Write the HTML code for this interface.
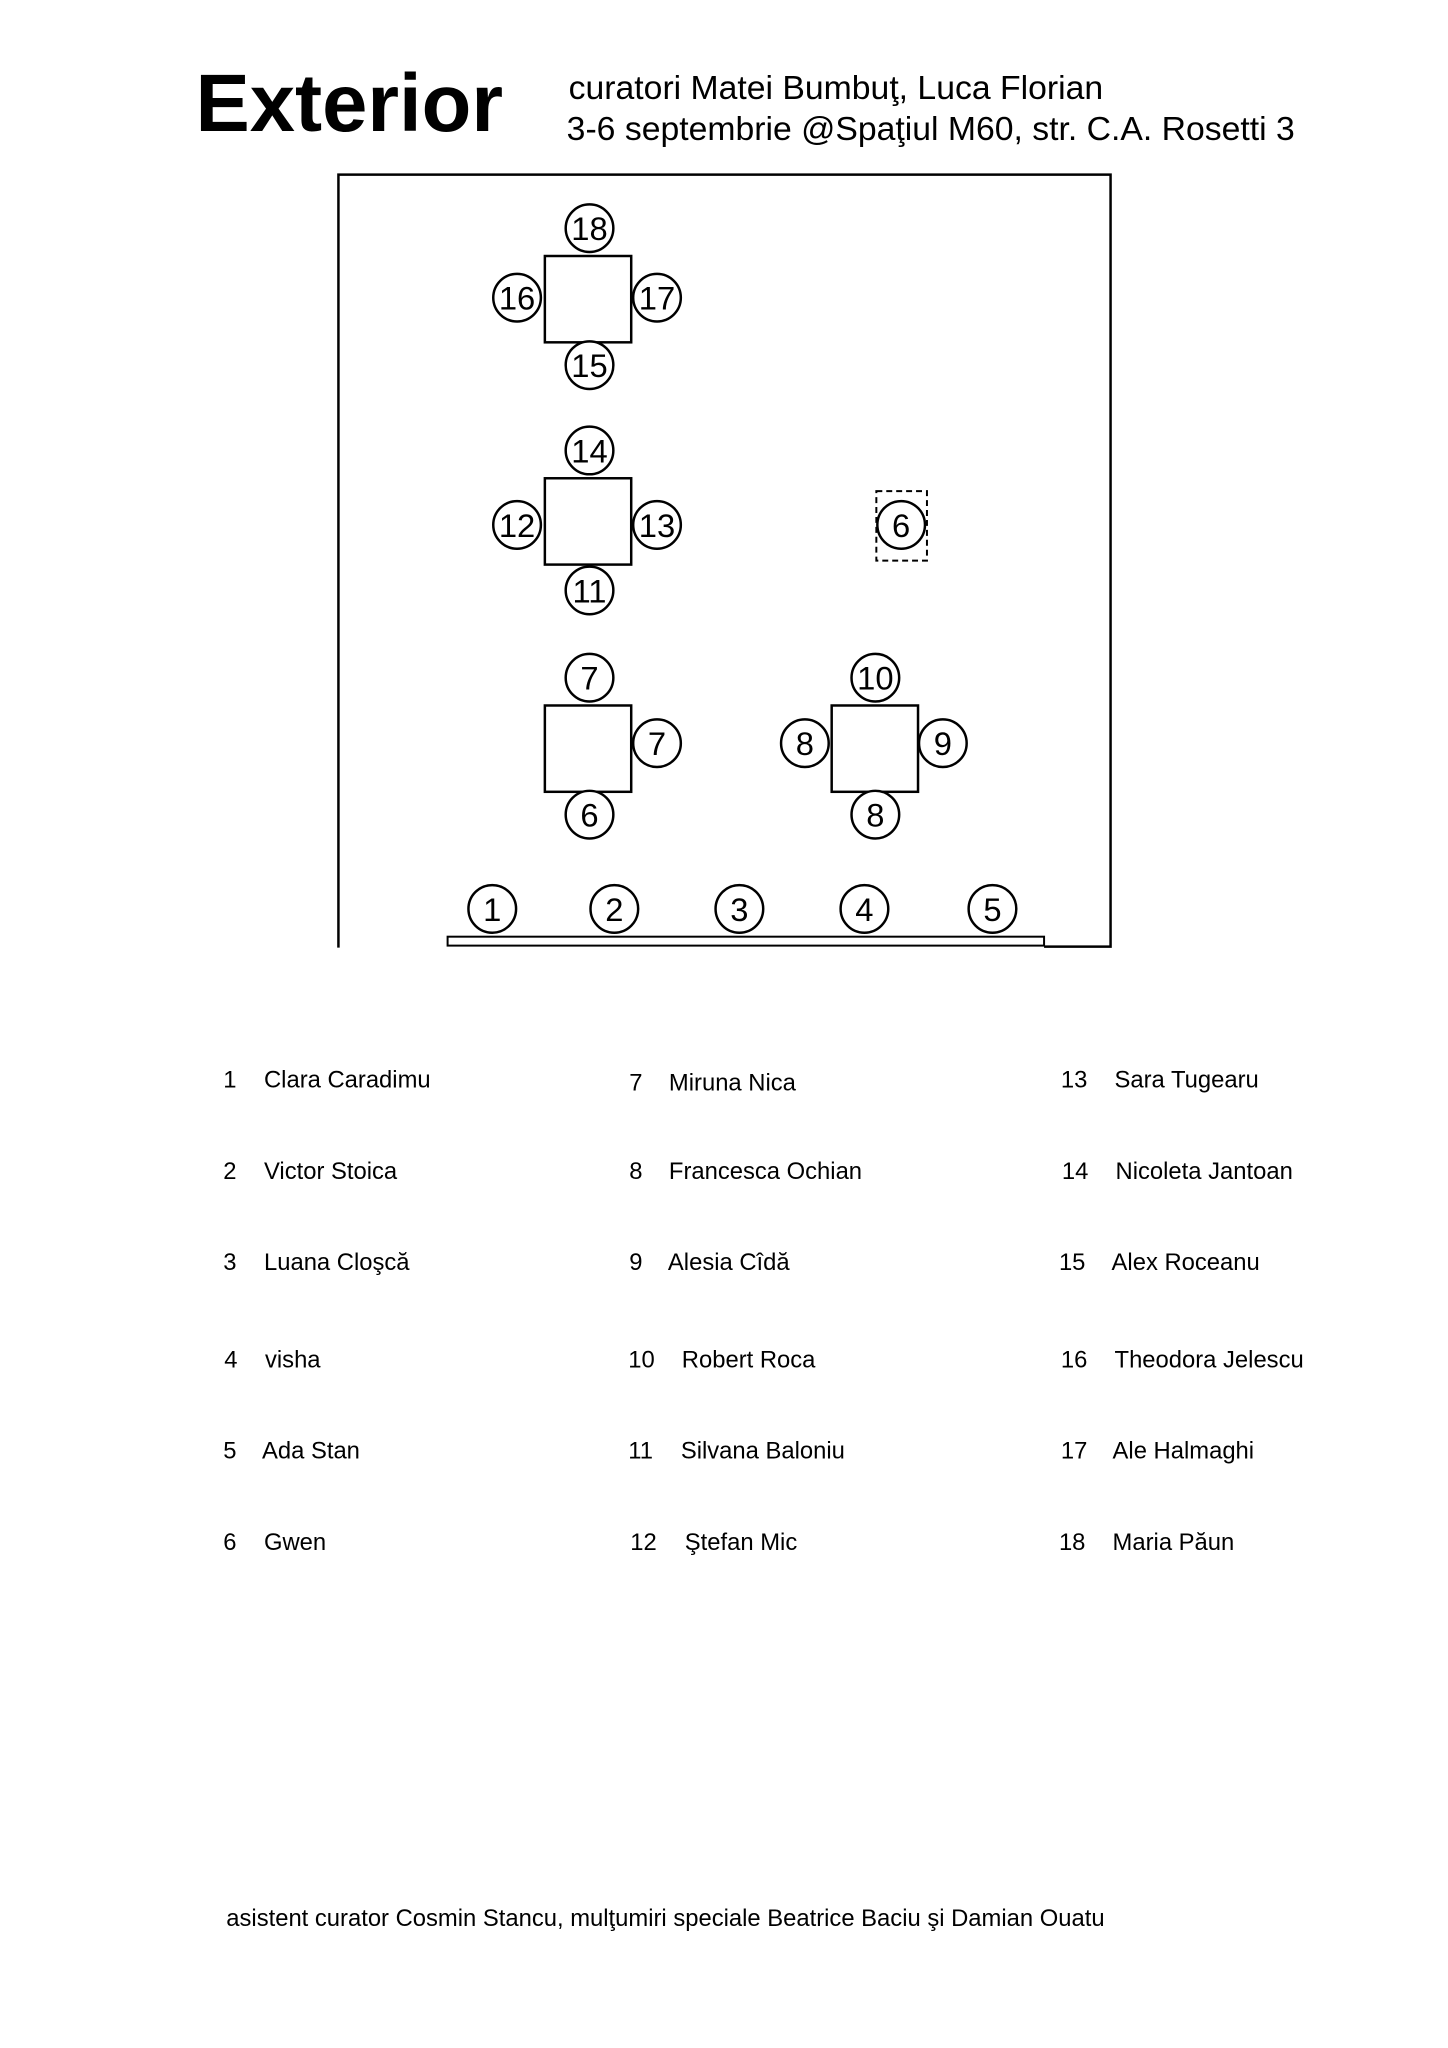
<!DOCTYPE html>
<html><head><meta charset="utf-8"><style>
html,body{margin:0;padding:0;background:#fff;}
svg{display:block;}
text{font-family:"Liberation Sans",Arial,sans-serif;fill:#000;}
</style></head><body>
<svg width="1448" height="2048" viewBox="0 0 1459 2064" preserveAspectRatio="none" xmlns="http://www.w3.org/2000/svg">
<text x="197" y="132" font-size="82" font-weight="bold">Exterior</text>
<text x="573" y="100" font-size="34">curatori Matei Bumbuţ, Luca Florian</text>
<text x="571" y="141" font-size="34">3-6 septembrie @Spaţiul M60, str. C.A. Rosetti 3</text>

<g fill="none" stroke="#000" stroke-width="2.5">
<polyline points="341,955 341,176 1119,176 1119,954 1052,954"/>
<rect x="451" y="944" width="601" height="9" stroke-width="2"/>
<rect x="549" y="258" width="87" height="87"/>
<rect x="549" y="482" width="87" height="87"/>
<rect x="549" y="711" width="87" height="87"/>
<rect x="838" y="711" width="87" height="87"/>
<rect x="883" y="495" width="51" height="70" stroke-dasharray="6,4" stroke-width="2"/>
</g>

<g fill="#fff" stroke="#000" stroke-width="2.5">
<circle cx="594" cy="230" r="24"/><circle cx="521" cy="300" r="24"/><circle cx="662" cy="300" r="24"/><circle cx="594" cy="368" r="24"/>
<circle cx="594" cy="454" r="24"/><circle cx="521" cy="529" r="24"/><circle cx="662" cy="529" r="24"/><circle cx="594" cy="595" r="24"/>
<circle cx="594" cy="683" r="24"/><circle cx="662" cy="749" r="24"/><circle cx="594" cy="821" r="24"/>
<circle cx="882" cy="683" r="24"/><circle cx="811" cy="749" r="24"/><circle cx="950" cy="749" r="24"/><circle cx="882" cy="821" r="24"/>
<circle cx="908" cy="529" r="24"/>
<circle cx="496" cy="916" r="24"/><circle cx="619" cy="916" r="24"/><circle cx="745" cy="916" r="24"/><circle cx="871" cy="916" r="24"/><circle cx="1000" cy="916" r="24"/>
</g>
<g font-size="33" text-anchor="middle">
<text x="594" y="242">18</text><text x="521" y="312">16</text><text x="662" y="312">17</text><text x="594" y="380">15</text>
<text x="594" y="466">14</text><text x="521" y="541">12</text><text x="662" y="541">13</text><text x="594" y="607">11</text>
<text x="594" y="695">7</text><text x="662" y="761">7</text><text x="594" y="833">6</text>
<text x="882" y="695">10</text><text x="811" y="761">8</text><text x="950" y="761">9</text><text x="882" y="833">8</text>
<text x="908" y="541">6</text>
<text x="496" y="928">1</text><text x="619" y="928">2</text><text x="745" y="928">3</text><text x="871" y="928">4</text><text x="1000" y="928">5</text>
</g>

<g font-size="24">
<text x="225" y="1096">1</text><text x="266" y="1096">Clara Caradimu</text>
<text x="225" y="1188">2</text><text x="266" y="1188">Victor Stoica</text>
<text x="225" y="1280">3</text><text x="266" y="1280">Luana Cloşcă</text>
<text x="226" y="1378">4</text><text x="267" y="1378">visha</text>
<text x="225" y="1470">5</text><text x="264" y="1470">Ada Stan</text>
<text x="225" y="1562">6</text><text x="266" y="1562">Gwen</text>

<text x="634" y="1099">7</text><text x="674" y="1099">Miruna Nica</text>
<text x="634" y="1188">8</text><text x="674" y="1188">Francesca Ochian</text>
<text x="634" y="1280">9</text><text x="673" y="1280">Alesia Cîdă</text>
<text x="633" y="1378">10</text><text x="687" y="1378">Robert Roca</text>
<text x="633" y="1470">11</text><text x="686" y="1470">Silvana Baloniu</text>
<text x="635" y="1562">12</text><text x="690" y="1562">Ştefan Mic</text>

<text x="1069" y="1096">13</text><text x="1123" y="1096">Sara Tugearu</text>
<text x="1070" y="1188">14</text><text x="1124" y="1188">Nicoleta Jantoan</text>
<text x="1067" y="1280">15</text><text x="1120" y="1280">Alex Roceanu</text>
<text x="1069" y="1378">16</text><text x="1123" y="1378">Theodora Jelescu</text>
<text x="1069" y="1470">17</text><text x="1121" y="1470">Ale Halmaghi</text>
<text x="1067" y="1562">18</text><text x="1121" y="1562">Maria Păun</text>

<text x="228" y="1941">asistent curator Cosmin Stancu, mulţumiri speciale Beatrice Baciu şi Damian Ouatu</text>
</g>
</svg>
</body></html>
